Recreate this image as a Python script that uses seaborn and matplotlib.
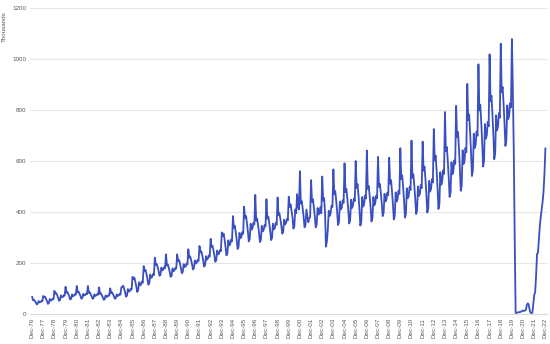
import numpy as np
import pandas as pd
import seaborn as sns
import matplotlib.pyplot as plt

# Monthly values (thousands), Dec-1976 .. Dec-2022 ###########################

dec_1976 = [68]
values_by_year = {
    1977: [54, 56, 51, 45, 38, 40, 51, 46, 47, 51, 50, 71],
    1978: [66, 68, 60, 51, 40, 43, 59, 53, 54, 60, 58, 91],
    1979: [80, 82, 74, 64, 52, 55, 73, 66, 67, 74, 72, 107],
    1980: [84, 86, 78, 69, 57, 60, 77, 70, 72, 78, 76, 110],
    1981: [85, 88, 80, 71, 60, 63, 79, 73, 74, 80, 78, 110],
    1982: [83, 85, 78, 70, 60, 62, 77, 71, 73, 78, 76, 105],
    1983: [79, 81, 74, 66, 56, 58, 73, 67, 69, 74, 72, 101],
    1984: [83, 85, 78, 70, 60, 62, 77, 71, 73, 78, 76, 105],
    1985: [107, 111, 99, 85, 68, 72, 98, 88, 90, 99, 96, 146],
    1986: [138, 143, 127, 109, 87, 92, 125, 112, 115, 127, 123, 188],
    1987: [168, 173, 157, 138, 115, 120, 155, 142, 145, 157, 153, 221],
    1988: [192, 196, 184, 169, 150, 154, 182, 171, 174, 184, 180, 234],
    1989: [190, 194, 181, 165, 146, 150, 179, 168, 171, 181, 178, 234],
    1990: [207, 212, 198, 181, 160, 165, 196, 184, 186, 198, 194, 254],
    1991: [221, 226, 212, 195, 175, 180, 210, 198, 201, 212, 208, 267],
    1992: [241, 246, 230, 210, 186, 192, 227, 213, 217, 230, 225, 295],
    1993: [263, 268, 251, 230, 205, 211, 249, 234, 237, 251, 246, 320],
    1994: [307, 315, 292, 264, 230, 238, 289, 269, 273, 292, 285, 384],
    1995: [338, 346, 321, 292, 255, 263, 318, 297, 302, 321, 315, 421],
    1996: [376, 385, 358, 325, 285, 294, 354, 331, 336, 358, 351, 467],
    1997: [366, 374, 349, 319, 282, 290, 346, 324, 329, 349, 343, 450],
    1998: [374, 382, 357, 327, 290, 298, 354, 332, 337, 357, 350, 457],
    1999: [388, 395, 373, 347, 315, 322, 370, 351, 356, 373, 367, 460],
    2000: [420, 430, 405, 380, 335, 345, 410, 395, 470, 420, 410, 560],
    2001: [433, 442, 414, 381, 340, 349, 410, 386, 360, 375, 380, 525],
    2002: [440, 450, 420, 384, 340, 350, 416, 390, 396, 420, 395, 539],
    2003: [445, 455, 400, 264, 285, 330, 405, 385, 395, 425, 420, 567],
    2004: [470, 482, 446, 402, 349, 361, 441, 410, 417, 446, 436, 591],
    2005: [478, 490, 453, 409, 355, 367, 448, 416, 424, 453, 443, 600],
    2006: [494, 509, 465, 412, 347, 362, 459, 421, 429, 465, 453, 641],
    2007: [490, 502, 464, 419, 363, 376, 459, 426, 434, 464, 454, 616],
    2008: [499, 510, 476, 434, 384, 396, 471, 441, 448, 476, 466, 613],
    2009: [511, 525, 483, 432, 371, 385, 477, 441, 449, 483, 471, 650],
    2010: [529, 544, 499, 444, 378, 393, 493, 454, 463, 499, 487, 680],
    2011: [534, 548, 506, 454, 392, 406, 500, 463, 471, 506, 494, 676],
    2012: [562, 578, 529, 470, 398, 414, 522, 480, 490, 529, 516, 725],
    2013: [602, 621, 564, 496, 412, 431, 556, 507, 518, 564, 549, 792],
    2014: [638, 655, 602, 538, 459, 477, 595, 548, 559, 602, 588, 816],
    2015: [693, 714, 651, 575, 483, 504, 642, 588, 600, 651, 634, 902],
    2016: [760, 782, 716, 637, 541, 563, 707, 651, 664, 716, 699, 979],
    2017: [798, 820, 754, 675, 578, 600, 745, 688, 701, 754, 736, 1018],
    2018: [834, 856, 788, 707, 607, 630, 779, 720, 734, 788, 770, 1060],
    2019: [869, 890, 827, 751, 659, 680, 818, 764, 776, 827, 810, 1078],
    2020: [880, 640, 300, 4, 5, 6, 7, 8, 8, 10, 12, 14],
    2021: [12, 14, 16, 35, 42, 38, 18, 5, 4, 5, 40, 75],
    2022: [85, 150, 235, 240, 290, 345, 380, 410, 440, 480, 550, 650],
}

tick_years = list(range(1976, 2023))
tick_labels = [f"Dec-{y % 100:02d}" for y in tick_years]

# Build a frame ###############################################################

vals = list(dec_1976)
for y in sorted(values_by_year):
    vals += values_by_year[y]

df = pd.DataFrame({'t': np.arange(len(vals)), 'value': vals})

# Plot ########################################################################

sns.set_style("white")
plt.rcParams['font.family'] = ['Liberation Sans', 'DejaVu Sans']

fig = plt.figure(figsize=(5.5, 3.44), dpi=100)
ax = fig.add_axes([0.055, 0.087, 0.94, 0.89])

sns.lineplot(data=df, x='t', y='value', color='#3a4fc0', linewidth=1.3, ax=ax)

ax.set_xlim(-2, 554)
ax.set_ylim(0, 1200)
ax.set_yticks(range(0, 1201, 200))
ax.set_xticks(np.arange(0, len(vals), 12))
ax.set_xticklabels(tick_labels, rotation=90)
ax.tick_params(axis='both', labelsize=4.5, colors='#595959', length=0, pad=3)

ax.grid(axis='y', color='#e6e6e6', linewidth=0.8)
ax.set_axisbelow(True)
for side in ['top', 'right', 'left']:
    ax.spines[side].set_visible(False)
ax.spines['bottom'].set_color('#d9d9d9')
ax.spines['bottom'].set_linewidth(0.8)

ax.set_xlabel('')
ax.set_ylabel('Thousands', fontsize=4.5, color='#595959')
ax.yaxis.set_label_coords(-0.045, 0.94)

fig.savefig('out.png', dpi=100)
